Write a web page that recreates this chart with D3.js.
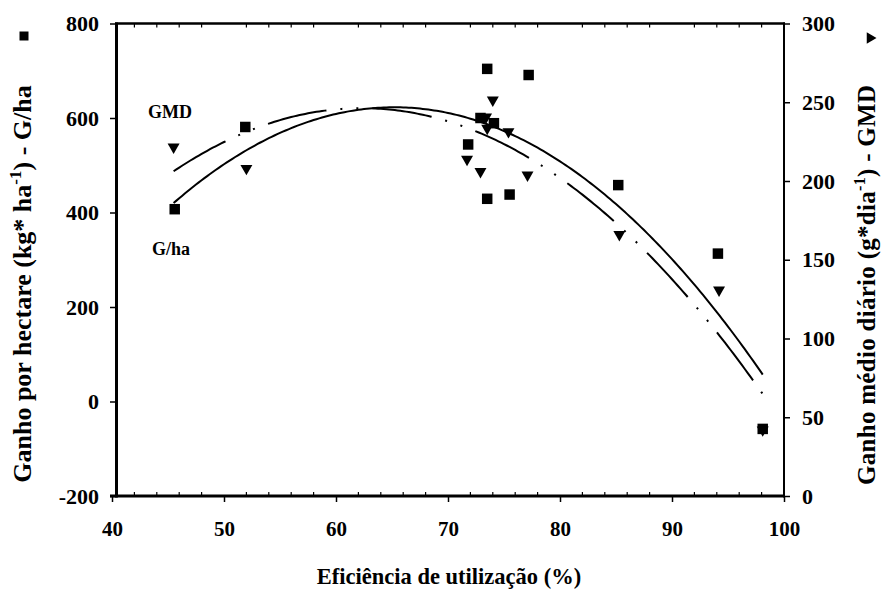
<!DOCTYPE html>
<html lang="pt">
<head>
<meta charset="UTF-8">
<title>Ganho x Eficiência de utilização</title>
<script src="https://d3js.org/d3.v7.min.js"></script>
<style>
    body { margin: 0; background: #fff; }
    svg text { font-family: "Liberation Serif", "Times New Roman", serif; font-weight: bold; fill: #000; }
</style>
</head>
<body>
<svg width="882" height="589"></svg>
<script>
    // Ganho por hectare (squares, left axis)
    var effGha = [45.6, 51.9, 71.8, 72.9, 73.5, 74.1, 73.5, 75.5, 77.2, 85.2, 94.1, 98.1];
    var ganhoHa = [407, 581, 544, 600, 704, 589, 429, 438, 691, 458, 313, -58];
    // Ganho medio diario (triangles, right axis)
    var effGmd = [45.5, 52.0, 71.7, 72.9, 74.0, 73.4, 73.5, 75.4, 77.1, 85.3, 94.2, 98.1];
    var gmd = [221.6, 208, 213.8, 206, 251.4, 240.6, 233.5, 231.3, 203.8, 166, 130.8, 42];
    // quadratic trend lines: c0 + c1*x + c2*x^2
    var fitGha = [-1598.2, 68.13, -0.5225];
    var fitGmd = [-304.0, 17.66, -0.1417];
    var fitRange = [45.5, 98.1];

    var xTicks = [40, 50, 60, 70, 80, 90, 100];
    var leftTicks = [-200, 0, 200, 400, 600, 800];
    var rightTicks = [0, 50, 100, 150, 200, 250, 300];

    var svg = d3.select("svg");
    var x = d3.scaleLinear().domain([40, 100]).range([112, 784]);
    var yL = d3.scaleLinear().domain([-200, 800]).range([496, 23.5]);
    var yR = d3.scaleLinear().domain([0, 300]).range([496, 23.5]);
    var plain = function (d) { return String(d); };   // keep hyphen minus like the original

    // axes
    var gx = svg.append("g").attr("transform", "translate(0,496)")
        .call(d3.axisBottom(x).tickValues(xTicks).tickSize(6).tickPadding(19).tickFormat(plain));
    var gl = svg.append("g").attr("transform", "translate(117,0)")
        .call(d3.axisLeft(yL).tickValues(leftTicks).tickSize(7).tickPadding(11).tickFormat(plain));
    var gr = svg.append("g").attr("transform", "translate(784,0)")
        .call(d3.axisRight(yR).tickValues(rightTicks).tickSize(6).tickPadding(12).tickFormat(plain));
    [gx, gl, gr].forEach(function (g) {
        g.select(".domain").remove();
        g.selectAll(".tick line").attr("stroke", "#000").attr("stroke-width", 1.5);
        g.selectAll(".tick text").attr("font-size", 22).attr("fill", "#000");
    });
    gx.selectAll(".tick text").attr("font-size", 21);

    // minor ticks, inward, on bottom and top
    var minor = d3.range(42, 100, 2).filter(function (d) { return d % 10 !== 0; });
    svg.selectAll(".minor-b").data(minor).enter().append("line")
        .attr("x1", function (d) { return x(d); }).attr("x2", function (d) { return x(d); })
        .attr("y1", 496).attr("y2", 492).attr("stroke", "#000").attr("stroke-width", 1.2);
    svg.selectAll(".minor-t").data(minor).enter().append("line")
        .attr("x1", function (d) { return x(d); }).attr("x2", function (d) { return x(d); })
        .attr("y1", 23.5).attr("y2", 27.5).attr("stroke", "#000").attr("stroke-width", 1.2);

    // frame
    svg.append("line").attr("x1", 116.5).attr("x2", 116.5).attr("y1", 22.5).attr("y2", 497.5)
        .attr("stroke", "#000").attr("stroke-width", 3);
    svg.append("line").attr("x1", 110).attr("x2", 785).attr("y1", 496).attr("y2", 496)
        .attr("stroke", "#000").attr("stroke-width", 3);
    svg.append("line").attr("x1", 115).attr("x2", 785).attr("y1", 23.5).attr("y2", 23.5)
        .attr("stroke", "#000").attr("stroke-width", 2.5);
    svg.append("line").attr("x1", 784).attr("x2", 784).attr("y1", 22.5).attr("y2", 497.5)
        .attr("stroke", "#000").attr("stroke-width", 2);

    // trend lines
    function poly(c) { return function (v) { return c[0] + c[1] * v + c[2] * v * v; }; }
    var xs = d3.range(fitRange[0], fitRange[1], 0.25).concat([fitRange[1]]);
    var fGha = poly(fitGha), fGmd = poly(fitGmd);
    svg.append("path").datum(xs)
        .attr("d", d3.line().x(function (d) { return x(d); }).y(function (d) { return yL(fGha(d)); }))
        .attr("fill", "none").attr("stroke", "#000").attr("stroke-width", 2);
    svg.append("path").datum(xs)
        .attr("d", d3.line().x(function (d) { return x(d); }).y(function (d) { return yR(fGmd(d)); }))
        .attr("fill", "none").attr("stroke", "#000").attr("stroke-width", 2)
        .attr("stroke-dasharray", "60 14 2 14 2 14");

    // points
    svg.selectAll(".sq").data(effGha).enter().append("path")
        .attr("d", d3.symbol(d3.symbolSquare, 110))
        .attr("transform", function (d, i) { return "translate(" + x(d) + "," + yL(ganhoHa[i]) + ")"; })
        .attr("fill", "#000");
    svg.selectAll(".tri").data(effGmd).enter().append("path")
        .attr("d", d3.symbol(d3.symbolTriangle, 62))
        .attr("transform", function (d, i) { return "translate(" + x(d) + "," + yR(gmd[i]) + ") rotate(180)"; })
        .attr("fill", "#000");

    // in-plot labels
    svg.append("text").attr("x", 148).attr("y", 118).attr("font-size", 18).text("GMD");
    svg.append("text").attr("x", 152).attr("y", 255).attr("font-size", 18).text("G/ha");

    // axis titles
    var tl = svg.append("text").attr("transform", "translate(31,284) rotate(-90)")
        .attr("text-anchor", "middle").attr("font-size", 26);
    tl.append("tspan").text("Ganho por hectare (kg* ha");
    tl.append("tspan").attr("dy", -10).attr("font-size", 17).text("-1");
    tl.append("tspan").attr("dy", 10).text(") - G/ha");
    svg.append("path").attr("d", d3.symbol(d3.symbolSquare, 81))
        .attr("transform", "translate(24,36)").attr("fill", "#000");

    var tr = svg.append("text").attr("transform", "translate(875,285) rotate(-90)")
        .attr("text-anchor", "middle").attr("font-size", 25)
        .attr("textLength", 400).attr("lengthAdjust", "spacing");
    tr.append("tspan").text("Ganho médio diário (g*dia");
    tr.append("tspan").attr("dy", -10).attr("font-size", 16).text("-1");
    tr.append("tspan").attr("dy", 10).text(") - GMD");
    svg.append("path").attr("d", d3.symbol(d3.symbolTriangle, 55))
        .attr("transform", "translate(870,38) rotate(90)").attr("fill", "#000");

    svg.append("text").attr("x", 449).attr("y", 584).attr("text-anchor", "middle")
        .attr("font-size", 22.5).text("Eficiência de utilização (%)");
</script>
</body>
</html>
